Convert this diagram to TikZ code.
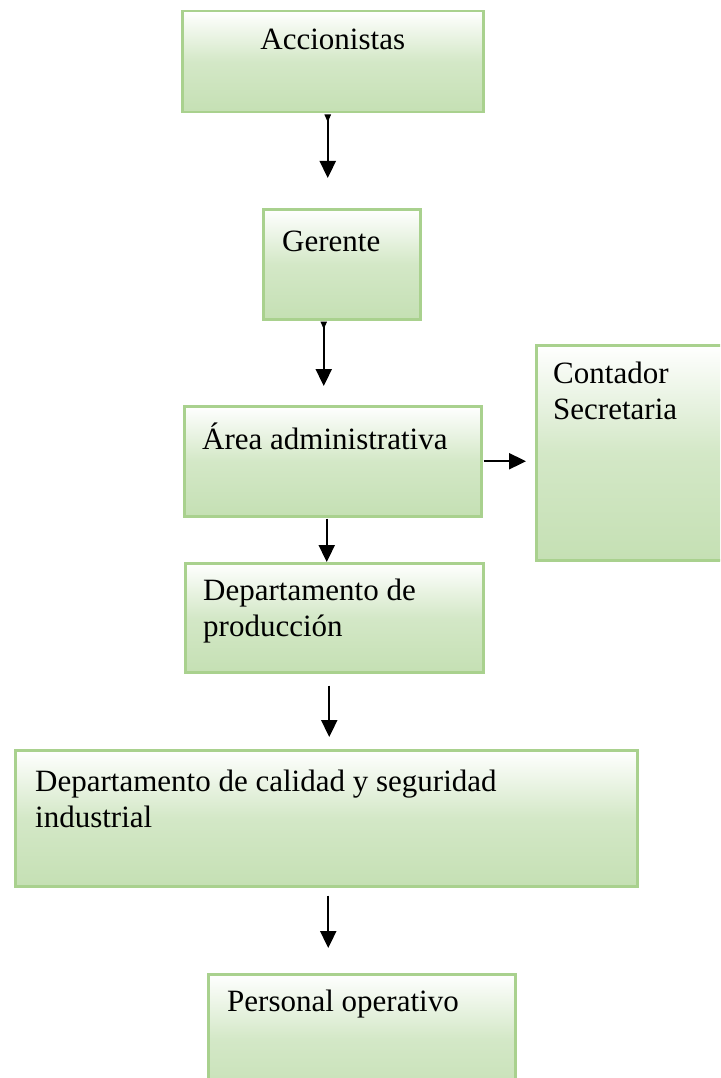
\documentclass[tikz,border=0pt]{standalone}
\usepackage{fontspec}
\setmainfont{Liberation Serif}
\usepackage{xcolor}
\usetikzlibrary{arrows.meta}
\definecolor{boxgreen}{RGB}{197,224,180}
\definecolor{boxline}{RGB}{169,209,142}
\tikzset{
  orgbox/.style={draw=boxline, line width=2.5pt, anchor=north west, inner sep=0pt,
    top color=white, bottom color=boxgreen, middle color=boxgreen!75!white},
  orgtext/.style={anchor=north west, inner sep=0pt, align=left,
    font=\fontsize{31}{36}\selectfont},
  orgarrow/.style={line width=2.3pt, -{Triangle[width=16pt,length=17pt]}},
  tailarrow/.style={line width=2.3pt,
    {Triangle[reversed,width=6pt,length=8pt]}-{Triangle[width=16pt,length=17pt]}}
}

\begin{document}
\begin{tikzpicture}[x=1pt, y=-1pt]
    \useasboundingbox (0, 0) rectangle (720, 1078);
    \clip (0, 0) rectangle (720, 1078);
    % boxes
    \node[orgbox, minimum width=301pt, minimum height=101pt] (acc) at (181, 10) {};
    \node[orgbox, minimum width=157pt, minimum height=110pt] (ger) at (262, 208) {};
    \node[orgbox, minimum width=297pt, minimum height=110pt] (area) at (183, 405) {};
    \node[orgbox, minimum width=200pt, minimum height=215pt] (cont) at (535, 344) {};
    \node[orgbox, minimum width=298pt, minimum height=109pt] (prod) at (184, 562) {};
    \node[orgbox, minimum width=622pt, minimum height=136pt] (cal) at (14, 749) {};
    \node[orgbox, minimum width=307pt, minimum height=130pt] (pers) at (207, 973) {};
    % texts
    \node[orgtext, anchor=north] (acct) at ([shift={(0, 14)}]acc.north) {\strut Accionistas};
    \node[orgtext] (gert) at ([shift={(20, 18)}]ger.north west) {\strut Gerente};
    \node[orgtext] (areat) at ([shift={(19, 18)}]area.north west) {\strut Área administrativa};
    \node[orgtext] (contt) at ([shift={(18, 14)}]cont.north west) {\strut Contador\\Secretaria};
    \node[orgtext] (prodt) at ([shift={(19, 13)}]prod.north west) {\strut Departamento de\\producción};
    \node[orgtext] (calt) at ([shift={(21, 17)}]cal.north west) {\strut Departamento de calidad y seguridad\\industrial};
    \node[orgtext] (perst) at ([shift={(20, 13)}]pers.north west) {\strut Personal operativo};
    % connectors
    \draw[tailarrow, shorten <=1pt, shorten >=30pt] ([xshift=-5pt]acc.south) -- ([xshift=-5pt]acc.south |- ger.north);
    \draw[tailarrow, shorten <=1pt, shorten >=19pt] ([xshift=-18pt]ger.south) -- ([xshift=-18pt]ger.south |- area.north);
    \draw[orgarrow, shorten <=1pt, shorten >=9pt] (area.east) -- (area.east -| cont.west);
    \draw[orgarrow, shorten <=1pt] ([xshift=-6pt]area.south) -- ([xshift=-6pt]area.south |- prod.north);
    \draw[orgarrow, shorten <=12pt, shorten >=12pt] ([xshift=-5pt]prod.south) -- ([xshift=-5pt]prod.south |- cal.north);
    \draw[orgarrow, shorten <=8pt, shorten >=25pt] ([xshift=2pt]cal.south) -- ([xshift=2pt]cal.south |- pers.north);
\end{tikzpicture}
\end{document}
